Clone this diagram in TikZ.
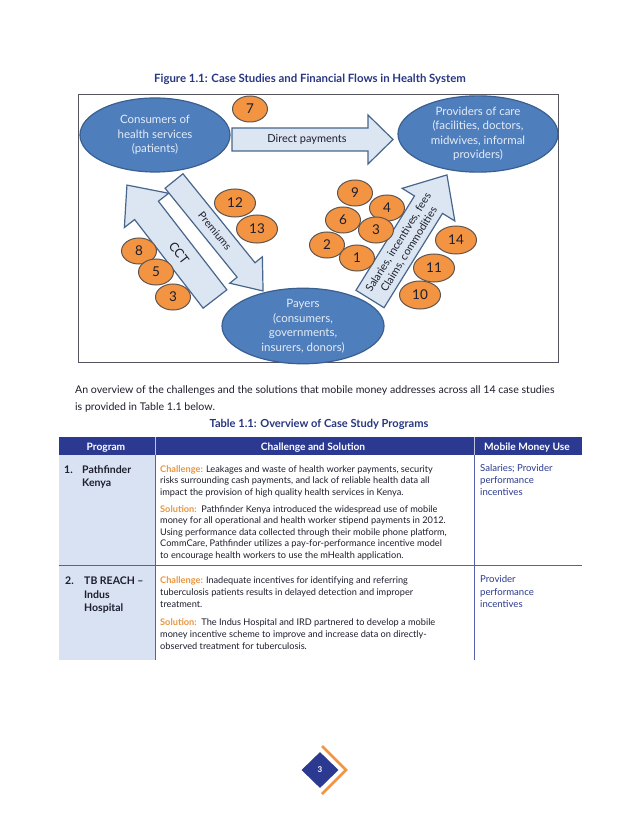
\documentclass[tikz,border=0pt]{standalone}
\usepackage{fontspec}
\setmainfont{Lato}
\usetikzlibrary{shapes.geometric}
\definecolor{navy}{RGB}{43,57,144}
\definecolor{capnavy}{RGB}{40,55,130}
\definecolor{ellfill}{RGB}{79,126,189}
\definecolor{elldraw}{RGB}{58,95,145}
\definecolor{elltext}{RGB}{228,236,247}
\definecolor{arrfill}{RGB}{220,230,242}
\definecolor{arrdraw}{RGB}{72,102,140}
\definecolor{orfill}{RGB}{242,148,66}
\definecolor{ordraw}{RGB}{95,85,80}
\definecolor{colfill}{RGB}{217,226,243}
\definecolor{ortext}{RGB}{234,150,62}
\definecolor{darktext}{RGB}{30,30,45}
\definecolor{frameline}{RGB}{85,85,95}
\newcommand{\myfs}[2]{\fontsize{#1}{#2}\selectfont}
% tail x, tail y, angle, length, half shaft, half head, head length
\newcommand{\blockarrow}[7]{%
  \draw[arrowbox, shift={(#1,#2)}, rotate=#3]
    (0,-#5) -- ({#4-#7},-#5) -- ({#4-#7},-#6) -- (#4,0) -- ({#4-#7},#6) -- ({#4-#7},#5) -- (0,#5) -- cycle;}
\begin{document}
\begin{tikzpicture}[x=1pt,y=-1pt,
  bigell/.style={ellipse, fill=ellfill, draw=elldraw, line width=1.2pt, inner sep=0pt,
     text=elltext, align=center, font=\myfs{11.5}{14.5}},
  numell/.style={ellipse, fill=orfill, draw=ordraw, line width=1pt, inner sep=0pt,
     minimum width=35, minimum height=26, font=\myfs{13.5}{13.5}, text=darktext},
  numellw/.style={numell, minimum width=41, minimum height=28},
  arrowbox/.style={fill=arrfill, draw=arrdraw, line width=1.2pt, line join=miter},
  arrtext/.style={inner sep=0pt, text=darktext},
  cellt/.style={inner sep=0pt, anchor=north west, align=left},
  hdr/.style={inner sep=0pt, anchor=base, text=white, font=\bfseries\myfs{10.2}{11}},
  gridline/.style={draw=navy!80, line width=0.8pt},
  hdrsep/.style={draw=white!70!navy, line width=0.6pt}
]
\useasboundingbox (0,0) rectangle (638,826);
\fill[white] (0,0) rectangle (638,826);

% caption
\node[inner sep=0pt, anchor=base, text=capnavy, font=\bfseries\myfs{11.4}{12}] (cap) at (310,83)
  {Figure 1.1: Case Studies and Financial Flows in Health System};

% figure frame
\draw[frameline, line width=0.8pt] (78,94) rectangle (558,362);

% block arrows
\blockarrow{232}{139.5}{0}{161}{11.5}{24.5}{25}
\blockarrow{215}{299}{127.7}{144}{15}{28}{32}
\blockarrow{174}{181}{-51}{141.5}{11.5}{21}{27}
\blockarrow{370}{299}{58.2}{146}{16.5}{31}{35}

\node[arrtext, font=\myfs{11}{12}] (dp) at (307,139) {Direct payments};
\node[arrtext, rotate=-52.3, font=\myfs{12.5}{13}] (cct) at (179,253) {CCT};
\node[arrtext, rotate=-51, font=\myfs{10.5}{11}] (prem) at (215,231) {Premiums};
\node[arrtext, rotate=58.2, align=center, font=\myfs{10.8}{12.5}] (sal) at (404,246)
  {Salaries, incentives, fees\\Claims, commodities};

% ellipses
\node[bigell, minimum width=150, minimum height=74] (cons) at (155,135)
  {Consumers of\\health services\\(patients)};
\node[bigell, minimum width=160, minimum height=72] (prov) at (478,134)
  {Providers of care\\(facilities, doctors,\\midwives, informal\\providers)};
\node[bigell, minimum width=162, minimum height=74] (pay) at (303,326)
  {Payers\\(consumers,\\governments,\\insurers, donors)};

% numbered case studies
\node[numell] (n7) at (250,109) {7};
\node[numellw] (n12) at (235,203) {12};
\node[numellw] (n13) at (257,229) {13};
\node[numell] (n8) at (139,251) {8};
\node[numell] (n5) at (156,272) {5};
\node[numell] (n3a) at (173,297) {3};
\node[numell] (n9) at (355,193) {9};
\node[numell] (n4) at (387,208) {4};
\node[numell] (n6) at (343,220) {6};
\node[numell] (n3b) at (376,230) {3};
\node[numell] (n2) at (327,245) {2};
\node[numell] (n1) at (357,258) {1};
\node[numellw] (n14) at (456,240) {14};
\node[numellw] (n11) at (434,268) {11};
\node[numellw] (n10) at (420,295) {10};

% body text
\node[inner sep=0pt, anchor=base west, align=left, font=\myfs{10.6}{17}, text=darktext] (body) at (75,393)
  {An overview of the challenges and the solutions that mobile money addresses across all 14 case studies};
\node[inner sep=0pt, anchor=base west, font=\myfs{10.6}{17}, text=darktext] (body2) at (75,410)
  {is provided in Table 1.1 below.};
\node[inner sep=0pt, anchor=base, text=capnavy, font=\bfseries\myfs{11.1}{12}] (tcap) at (319,427.5)
  {Table 1.1: Overview of Case Study Programs};

% table
\fill[navy] (59,437) rectangle (582,455);
\fill[colfill] (59,455) rectangle (155,660);
\draw[hdrsep] (155,437) -- (155,455) (474,437) -- (474,455);
\draw[gridline] (155,455) -- (155,660) (474,455) -- (474,660) (59,565) -- (582,565);
\node[hdr] (h1) at (106,450) {Program};
\node[hdr] (h2) at (313,450) {Challenge and Solution};
\node[hdr] (h3) at (527,450) {Mobile Money Use};

% row 1
\node[cellt, font=\bfseries\myfs{10.5}{13.5}, text=darktext] (r1n) at (64,463.5) {\strut 1.};
\node[cellt, font=\bfseries\myfs{10.5}{13.5}, text=darktext] (r1p) at (82,463.5) {\strut Pathfinder\\Kenya};
\node[cellt, font=\myfs{9.2}{11.5}, text=darktext] (r1c) at (160,464) {\strut\textcolor{ortext}{\bfseries Challenge:} Leakages and waste of health worker payments, security\\risks surrounding cash payments, and lack of reliable health data all\\impact the provision of high quality health services in Kenya.};
\node[cellt, font=\myfs{9.2}{11.5}, text=darktext] (r1s) at (160,504) {\strut\textcolor{ortext}{\bfseries Solution:}\ \ Pathfinder Kenya introduced the widespread use of mobile\\money for all operational and health worker stipend payments in 2012.\\Using performance data collected through their mobile phone platform,\\CommCare, Pathfinder utilizes a pay-for-performance incentive model\\to encourage health workers to use the mHealth application.};
\node[cellt, font=\myfs{9.6}{12}, text=navy] (r1m) at (480,463) {\strut Salaries; Provider\\performance\\incentives};

% row 2
\node[cellt, font=\bfseries\myfs{10.5}{13.8}, text=darktext] (r2n) at (65,574.5) {\strut 2.};
\node[cellt, font=\bfseries\myfs{10.5}{13.8}, text=darktext] (r2p) at (84,574.5) {\strut TB REACH --\\Indus\\Hospital};
\node[cellt, font=\myfs{9.2}{12.3}, text=darktext] (r2c) at (160,574.4) {\strut\textcolor{ortext}{\bfseries Challenge:} Inadequate incentives for identifying and referring\\tuberculosis patients results in delayed detection and improper\\treatment.};
\node[cellt, font=\myfs{9.2}{12.3}, text=darktext] (r2s) at (160,616.4) {\strut\textcolor{ortext}{\bfseries Solution:}\ \ The Indus Hospital and IRD partnered to develop a mobile\\money incentive scheme to improve and increase data on directly-\\observed treatment for tuberculosis.};
\node[cellt, font=\myfs{9.6}{12.5}, text=navy] (r2m) at (480,574) {\strut Provider\\performance\\incentives};

% page number
\node[diamond, fill=navy, minimum width=37, minimum height=36, inner sep=0pt, text=white,
  font=\bfseries\myfs{8}{8}] (pg) at (320,770) {3};
\draw[orfill, line width=2.5pt] (322,746) -- (346,770) -- (322,794);
\end{tikzpicture}
\end{document}
